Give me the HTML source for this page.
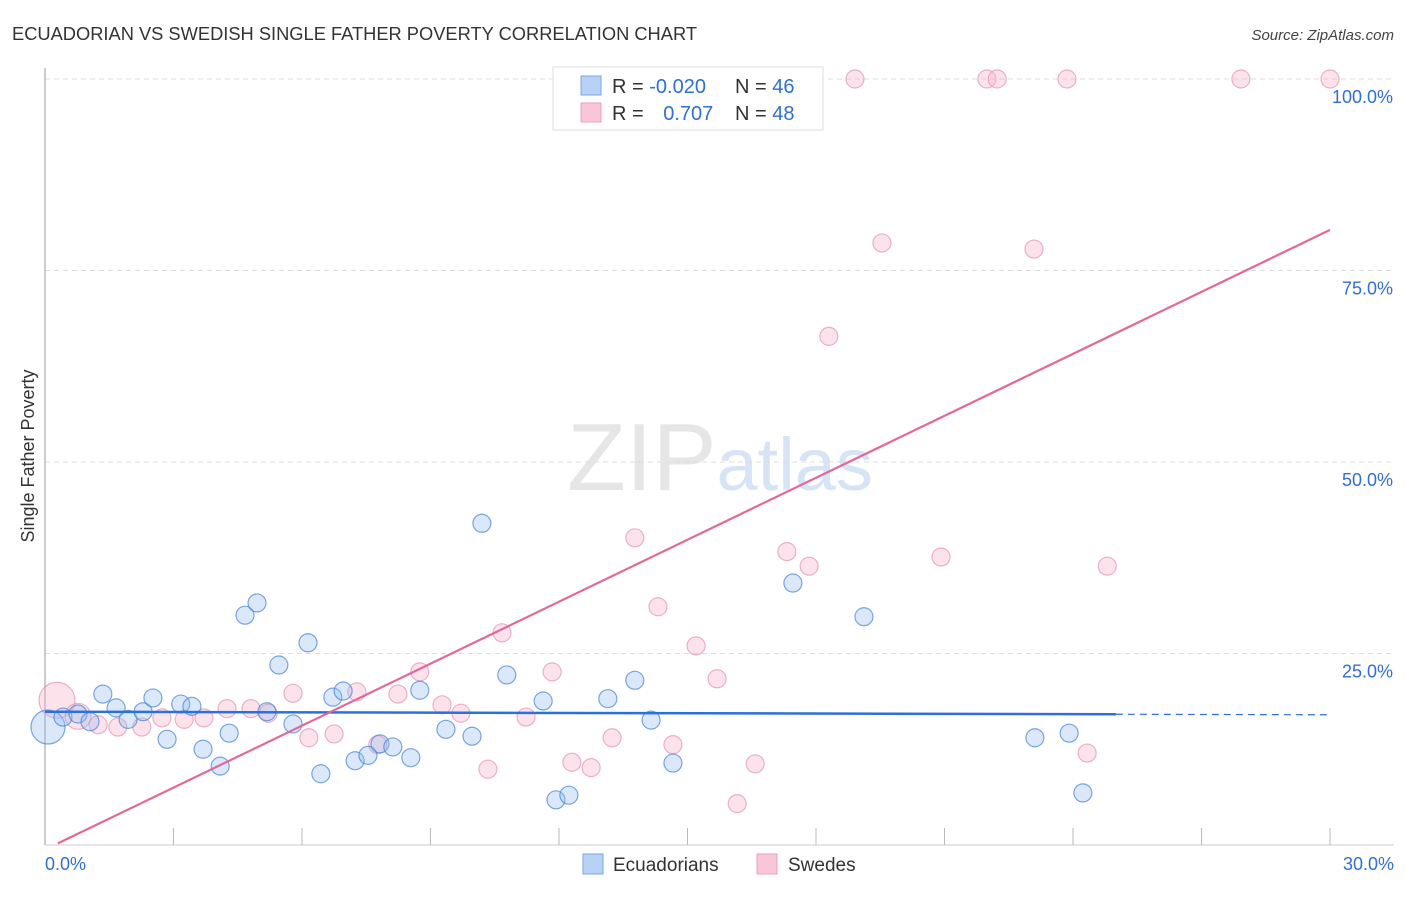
<!DOCTYPE html>
<html><head><meta charset="utf-8"><style>
body{margin:0;background:#fff;font-family:"Liberation Sans",sans-serif;}
svg text{font-family:"Liberation Sans",sans-serif;}
</style></head><body>
<svg id="chart" width="1406" height="892" xmlns="http://www.w3.org/2000/svg">
<text x="12" y="40" font-size="18.3" fill="#333">ECUADORIAN VS SWEDISH SINGLE FATHER POVERTY CORRELATION CHART</text>
<text x="1394" y="40" font-size="15" fill="#444" text-anchor="end" font-style="italic">Source: ZipAtlas.com</text>
<text x="720" y="490" font-size="96" text-anchor="middle" fill="#e6e6e6" font-family="Liberation Serif"><tspan>ZIP</tspan><tspan fill="#d6e4f5" font-family="Liberation Sans" font-size="74">atlas</tspan></text>
<text transform="translate(34,456) rotate(-90)" font-size="18" fill="#333" text-anchor="middle">Single Father Poverty</text>
<g id="grid"></g>
<g id="marks"></g>
<g>
<rect x="553" y="67" width="270" height="63" fill="#fff" stroke="#ddd"/>
<rect x="581" y="76" width="20" height="19" fill="#b8d2f5" stroke="#7aa6e6"/>
<rect x="581" y="103" width="20" height="19" fill="#f9c6d5" stroke="#eba1b9"/>
<text x="612" y="93" font-size="20" fill="#333">R = <tspan fill="#2f6fd6">-0.020</tspan></text>
<text x="735" y="93" font-size="20" fill="#333">N = <tspan fill="#2f6fd6">46</tspan></text>
<text x="612" y="120" font-size="20" fill="#333">R = <tspan fill="#2f6fd6" dx="14">0.707</tspan></text>
<text x="735" y="120" font-size="20" fill="#333">N = <tspan fill="#2f6fd6">48</tspan></text>
</g>
<g>
<rect x="583" y="854" width="20" height="20" fill="#b8d2f5" stroke="#7aa6e6"/>
<text x="613" y="871" font-size="19" fill="#333">Ecuadorians</text>
<rect x="757" y="854" width="20" height="20" fill="#f9c6d5" stroke="#eba1b9"/>
<text x="788" y="871" font-size="19" fill="#333">Swedes</text>
</g>
</svg>
<script>
const blueX=[0.07,0.42,0.77,1.05,1.35,1.66,1.94,2.29,2.52,2.85,3.17,3.43,3.69,4.09,4.30,4.67,4.95,5.18,5.46,5.79,6.14,6.44,6.72,6.96,7.24,7.54,7.82,8.12,8.54,8.75,9.36,9.97,10.20,10.78,11.63,11.93,12.23,13.14,13.77,14.15,14.66,17.46,19.12,23.11,23.91,24.23];
const blueY=[15.4,16.7,17.1,16.1,19.7,17.9,16.4,17.4,19.2,13.8,18.4,18.1,12.5,10.3,14.6,30.0,31.6,17.4,23.5,15.8,26.4,9.3,19.3,20.1,11.0,11.7,13.2,12.8,11.4,20.2,15.1,14.2,42.0,22.2,18.8,5.9,6.5,19.1,21.5,16.3,10.7,34.2,29.8,14.0,14.6,6.8];
const pinkX=[0.28,0.77,1.24,1.70,2.26,2.73,3.25,3.71,4.25,4.81,5.21,5.79,6.16,6.75,7.28,7.77,8.24,8.75,9.27,9.71,10.34,10.67,11.23,11.84,12.30,12.75,13.24,13.77,14.31,14.66,15.20,15.69,16.16,16.58,17.32,17.84,18.30,18.91,19.54,20.92,21.99,22.23,23.09,23.86,24.33,24.80,27.92,30.0];
const pinkY=[18.9,16.8,15.7,15.4,15.4,16.6,16.4,16.6,17.8,17.8,17.2,19.8,14.0,14.5,20.0,13.1,19.7,22.6,18.3,17.2,9.9,27.7,16.7,22.6,10.8,10.1,14.0,40.1,31.1,13.1,26.0,21.7,5.4,10.6,38.3,36.4,66.4,100,78.6,37.6,100,100,77.8,100,12.0,36.4,100,100];
const yTicks=[25,50,75,100];
const xTickLabels=["0.0%","30.0%"];
const blueTrend=[17.4,17.0];
const pinkTrend=[-0.6,80.3];
const NS='http://www.w3.org/2000/svg';
const X=v=>45+v/30*1285, Y=v=>845-v*7.66;
function mk(tag,at,parent){const e=document.createElementNS(NS,tag);for(const k in at)e.setAttribute(k,at[k]);parent.appendChild(e);return e;}
const grid=document.getElementById('grid'), marks=document.getElementById('marks');
yTicks.forEach(t=>{
 const l=mk('line',{x1:45,x2:1394,y1:Y(t),y2:Y(t),stroke:'#ddd','stroke-dasharray':'5,4'},grid);
 
 
 const tx=mk('text',{x:1393,y:Y(t)+24,'font-size':18,fill:'#2f6fd6','text-anchor':'end'},grid);
 tx.textContent=t.toFixed(1)+'%';
 
 
});
const ax=mk('line',{x1:45,x2:45,y1:68,y2:845,stroke:'#bbb','stroke-width':1.5},grid);


const bx=mk('line',{x1:45,x2:1394,y1:845,y2:845,stroke:'#ccc'},grid);


for(let i=1;i<=10;i++){const t=mk('line',{x1:X(i*3),x2:X(i*3),y1:828,y2:845,stroke:'#bbb'},grid);
 
 }
[[0,'start',45],[30,'end',1394]].forEach((d,i)=>{const t=mk('text',{x:d[2],y:870,'font-size':18,fill:'#2f6fd6','text-anchor':d[1]},grid);t.textContent=xTickLabels[i];
 
 });
pinkX.forEach((x,i)=>{const r=i==0?18:(i==1?13:9);const c=mk('circle',{cx:X(x),cy:Y(pinkY[i]),r:r,fill:'rgba(245,175,198,0.35)',stroke:'rgba(228,140,172,0.65)','stroke-width':1.2},marks);
 
 });
blueX.forEach((x,i)=>{const r=i==0?17:9;const c=mk('circle',{cx:X(x),cy:Y(blueY[i]),r:r,fill:'rgba(150,190,240,0.35)',stroke:'rgba(70,130,215,0.7)','stroke-width':1.2},marks);
 
 });
const bt=v=>blueTrend[0]+(blueTrend[1]-blueTrend[0])*v/30;
const b1=mk('line',{x1:X(0),y1:Y(bt(0)),x2:X(25),y2:Y(bt(25)),stroke:'#2e6fd8','stroke-width':2.5},marks);


const b2=mk('line',{x1:X(25),y1:Y(bt(25)),x2:X(30),y2:Y(bt(30)),stroke:'#2e6fd8','stroke-width':1.2,'stroke-dasharray':'7,5'},marks);


const p1=mk('line',{x1:X(0.3),y1:Y(pinkTrend[0]+(pinkTrend[1]-pinkTrend[0])*0.01),x2:X(30),y2:Y(pinkTrend[1]),stroke:'#e5679a','stroke-width':2.2},marks);


</script>
</body></html>
